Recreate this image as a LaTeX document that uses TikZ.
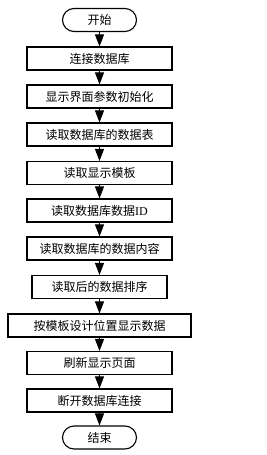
\documentclass[tikz,border=0pt]{standalone}
\usepackage{fontspec}
\setmainfont{Liberation Serif}
\newfontfamily\cjk{Noto Sans CJK SC}
\usetikzlibrary{arrows.meta}
\begin{document}
\begin{tikzpicture}[x=1pt,y=-1pt,
  box/.style={draw,line width=1.1pt,minimum width=145pt,minimum height=23pt,inner sep=0pt,font=\fontsize{12pt}{14pt}\cjk},
  term/.style={draw,line width=1.1pt,minimum width=74pt,minimum height=23pt,inner sep=0pt,rounded corners=11.5pt,font=\fontsize{12pt}{14pt}\cjk},
  arr/.style={line width=1pt,-{Triangle[width=9pt,length=12pt]}}]
\useasboundingbox (0,0) rectangle (267,455);
\node[term] (s) at (99.5,20) {开始};
\node[box] (b1) at (99.5,58.5) {连接数据库};
\node[box] (b2) at (99.5,96.5) {显示界面参数初始化};
\node[box] (b3) at (99.5,134.5) {读取数据库的数据表};
\node[box] (b4) at (99.5,173) {读取显示模板};
\node[box] (b5) at (99.5,210.5) {读取数据库数据{\rmfamily ID}};
\node[box] (b6) at (99.5,248.5) {读取数据库的数据内容};
\node[box,minimum width=135pt] (b7) at (99.5,287) {读取后的数据排序};
\node[box,minimum width=183pt] (b8) at (99.5,325.5) {按模板设计位置显示数据};
\node[box] (b9) at (99.5,363) {刷新显示页面};
\node[box] (b10) at (99.5,400.5) {断开数据库连接};
\node[term] (e) at (99.5,437.5) {结束};
\draw[arr] (s) -- (b1);
\draw[arr] (b1) -- (b2);
\draw[arr] (b2) -- (b3);
\draw[arr] (b3) -- (b4);
\draw[arr] (b4) -- (b5);
\draw[arr] (b5) -- (b6);
\draw[arr] (b6) -- (b7);
\draw[arr] (b7) -- (b8);
\draw[arr] (b8) -- (b9);
\draw[arr] (b9) -- (b10);
\draw[arr] (b10) -- (e);
\end{tikzpicture}
\end{document}
